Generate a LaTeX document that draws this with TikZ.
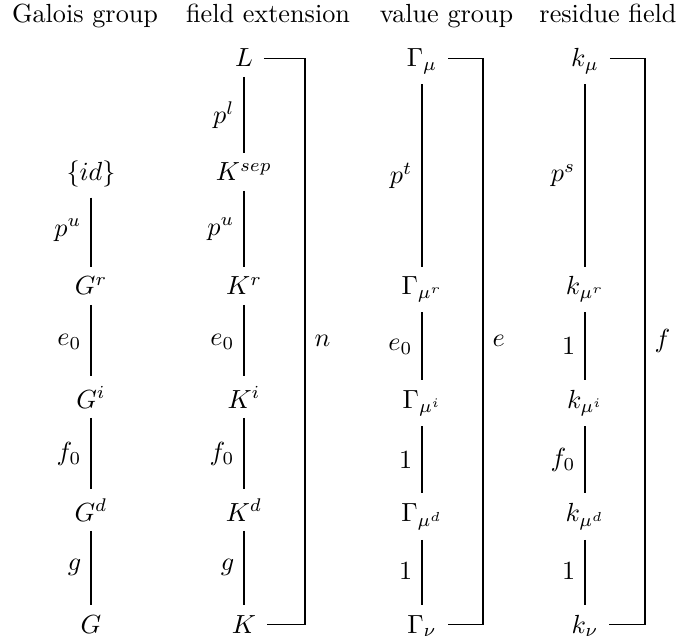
\documentclass[tikz,border=0pt]{standalone}
\usepackage{tikz}
\newcommand\myvedge[3]{\draw[conn] (#1) -- (#2); \path (#1.center) -- node[lab]{$#3$} (#2.center);}
\begin{document}
\begin{tikzpicture}[x=0.3817pt,y=-0.3817pt,
  cell/.style={anchor=base, inner xsep=3pt, inner ysep=3.6pt},
  head/.style={anchor=base, inner sep=0pt},
  lab/.style={left, inner sep=3.5pt},
  blab/.style={right, inner sep=3.5pt},
  conn/.style={line width=0.4pt},
  bracket/.style={line width=0.4pt}]
\useasboundingbox (0,0) rectangle (678,639);
% headers
\node[head] (h1) at (85,23) {Galois group};
\node[head] (h2) at (268,23) {field extension};
\node[head] (h3) at (446.5,23) {value group};
\node[head] (h4) at (608,23) {residue field};
% column 1
\node[cell] (id) at (91,181) {$\{id\}$};
\node[cell] (Gr) at (91,295) {$G^r$};
\node[cell] (Gi) at (91,408) {$G^i$};
\node[cell] (Gd) at (91,521) {$G^d$};
\node[cell] (G)  at (91,633) {$G$};
% column 2
\node[cell] (L)  at (244,67) {$L$};
\node[cell] (Ks) at (244,181) {$K^{sep}$};
\node[cell] (Kr) at (244,295) {$K^r$};
\node[cell] (Ki) at (244,408) {$K^i$};
\node[cell] (Kd) at (244,521) {$K^d$};
\node[cell] (K)  at (244,633) {$K$};
% column 3
\node[cell] (Gm)  at (422,67) {$\Gamma_\mu$};
\node[cell] (Gmr) at (422,295) {$\Gamma_{\mu^r}$};
\node[cell] (Gmi) at (422,408) {$\Gamma_{\mu^i}$};
\node[cell] (Gmd) at (422,521) {$\Gamma_{\mu^d}$};
\node[cell] (Gn)  at (422,633) {$\Gamma_\nu$};
% column 4
\node[cell] (km)  at (585,67) {$k_\mu$};
\node[cell] (kmr) at (585,295) {$k_{\mu^r}$};
\node[cell] (kmi) at (585,408) {$k_{\mu^i}$};
\node[cell] (kmd) at (585,521) {$k_{\mu^d}$};
\node[cell] (kn)  at (585,633) {$k_\nu$};
% edges
\myvedge{id}{Gr}{p^u}
\myvedge{Gr}{Gi}{e_0}
\myvedge{Gi}{Gd}{f_0}
\myvedge{Gd}{G}{g}
\myvedge{L}{Ks}{p^l}
\myvedge{Ks}{Kr}{p^u}
\myvedge{Kr}{Ki}{e_0}
\myvedge{Ki}{Kd}{f_0}
\myvedge{Kd}{K}{g}
\myvedge{Gm}{Gmr}{p^t}
\myvedge{Gmr}{Gmi}{e_0}
\myvedge{Gmi}{Gmd}{1}
\myvedge{Gmd}{Gn}{1}
\myvedge{km}{kmr}{p^s}
\myvedge{kmr}{kmi}{1}
\myvedge{kmi}{kmd}{f_0}
\myvedge{kmd}{kn}{1}
% brackets
\coordinate (nx) at (305,0);
\coordinate (ex) at (483,0);
\coordinate (fx) at (645,0);
\draw[bracket] ([xshift=1pt]L.east) -- (L.east -| nx) -- node[blab]{$n$} (K.east -| nx) -- ([xshift=1pt]K.east);
\draw[bracket] ([xshift=1pt]Gm.east |- L.east) -- (L.east -| ex) -- node[blab]{$e$} (K.east -| ex) -- ([xshift=1pt]Gn.east |- K.east);
\draw[bracket] ([xshift=1pt]km.east |- L.east) -- (L.east -| fx) -- node[blab]{$f$} (K.east -| fx) -- ([xshift=1pt]kn.east |- K.east);
\end{tikzpicture}
\end{document}
